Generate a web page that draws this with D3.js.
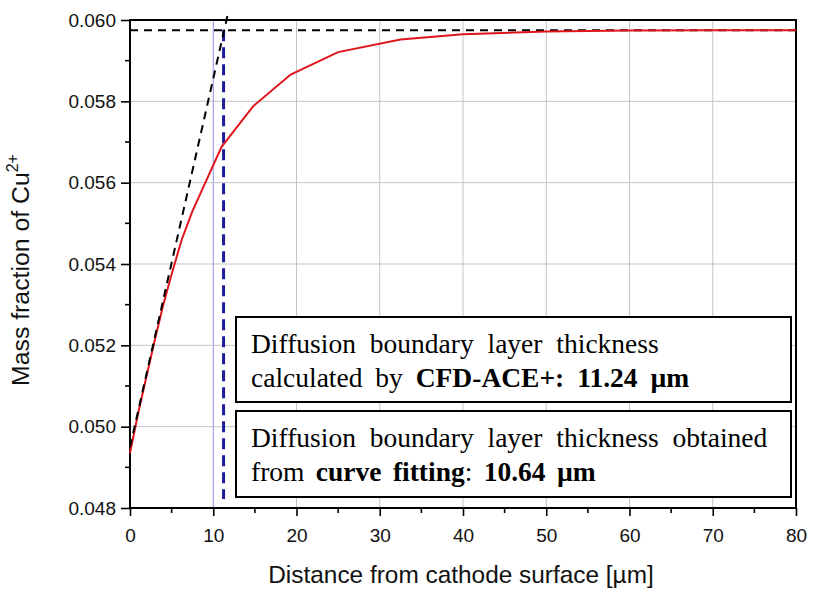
<!DOCTYPE html>
<html><head><meta charset="utf-8">
<script src="https://cdn.jsdelivr.net/npm/d3@7"></script>
<style>body{margin:0;background:#fff}svg{display:block}</style>
</head><body>
<svg id="c" width="819" height="592"></svg>
<script>
// ---- data ----
const curveX = [0, 1, 2, 3, 4, 5, 6.2, 7.5, 9.2, 11.0, 14.8, 19.3, 25.0, 32.5, 40, 50, 60, 70, 80];
const curveY = [0.04935, 0.05035, 0.05125, 0.05215, 0.0530, 0.05375, 0.05459, 0.05530, 0.05607, 0.05688, 0.05788, 0.05866, 0.05921, 0.05952, 0.05965, 0.05972, 0.05974, 0.05975, 0.05975];
const tangentX = [0, 11.7];
const tangentY = [0.0495, 0.0601];
const plateauY = 0.05975;
const cfdThickness = 11.24;
const fitThickness = 10;   // thin guide line
const xTicks = [0, 10, 20, 30, 40, 50, 60, 70, 80];
const yTicks = [0.048, 0.050, 0.052, 0.054, 0.056, 0.058, 0.060];
const xMinor = [5, 15, 25, 35, 45, 55, 65, 75];
const yMinor = [0.049, 0.051, 0.053, 0.055, 0.057, 0.059];

const svg = d3.select("#c");
const L = 130, R = 796, T = 20, B = 508;
const x = d3.scaleLinear().domain([0, 80]).range([L, R]);
const y = d3.scaleLinear().domain([0.048, 0.060]).range([B, T]);

// grid
const g = svg.append("g");
g.selectAll(".gx").data(xTicks.slice(1, -1)).enter().append("line")
  .attr("x1", d => x(d)).attr("x2", d => x(d)).attr("y1", T).attr("y2", B)
  .attr("stroke", d => d === fitThickness ? "#8c8cf0" : "#c4c4c4").attr("stroke-width", 1);
g.selectAll(".gy").data(yTicks.slice(1, -1)).enter().append("line")
  .attr("x1", L).attr("x2", R).attr("y1", d => y(d)).attr("y2", d => y(d))
  .attr("stroke", "#c4c4c4").attr("stroke-width", 1);

// axes
const xAxis = d3.axisBottom(x).tickValues(xTicks).tickFormat(d3.format("d")).tickSize(8).tickPadding(13);
const yAxis = d3.axisLeft(y).tickValues(yTicks).tickFormat(d3.format(".3f")).tickSize(9).tickPadding(5);
const ax = svg.append("g").attr("transform", `translate(0,${B})`).call(xAxis);
const ay = svg.append("g").attr("transform", `translate(${L},0)`).call(yAxis);
[ax, ay].forEach(a => {
  a.select(".domain").remove();
  a.selectAll("line").attr("stroke", "#000").attr("stroke-width", 1.6);
  a.selectAll("text").attr("font-family", "Liberation Sans, Arial, sans-serif").attr("font-size", 19).attr("fill", "#111");
});
// minor ticks
svg.append("g").selectAll("line").data(xMinor).enter().append("line")
  .attr("x1", d => x(d)).attr("x2", d => x(d)).attr("y1", B).attr("y2", B + 5)
  .attr("stroke", "#000").attr("stroke-width", 1.6);
svg.append("g").selectAll("line").data(yMinor).enter().append("line")
  .attr("x1", L - 5).attr("x2", L).attr("y1", d => y(d)).attr("y2", d => y(d))
  .attr("stroke", "#000").attr("stroke-width", 1.6);

// frame
svg.append("rect").attr("x", L).attr("y", T).attr("width", R - L).attr("height", B - T)
  .attr("fill", "none").attr("stroke", "#000").attr("stroke-width", 2);

// horizontal plateau dashed line
svg.append("line").attr("x1", x(0)).attr("x2", x(80)).attr("y1", y(plateauY)).attr("y2", y(plateauY))
  .attr("stroke", "#000").attr("stroke-width", 2).attr("stroke-dasharray", "8,6");

// blue dashed vertical line
svg.append("line").attr("x1", x(cfdThickness)).attr("x2", x(cfdThickness))
  .attr("y1", y(plateauY)).attr("y2", y(0.04822))
  .attr("stroke", "#1c1c9c").attr("stroke-width", 3).attr("stroke-dasharray", "11,6");

// red curve
const line = d3.line().x(d => x(d[0])).y(d => y(d[1]));
svg.append("path").datum(curveX.map((v, i) => [v, curveY[i]]))
  .attr("d", line).attr("fill", "none").attr("stroke", "#e0141c").attr("stroke-width", 2);

// tangent dashed line
svg.append("path").datum(tangentX.map((v, i) => [v, tangentY[i]]))
  .attr("d", line).attr("fill", "none").attr("stroke", "#000").attr("stroke-width", 2).attr("stroke-dasharray", "8,6");

// text boxes
const boxes = [
  {y0: 317, y1: 402, lines: [
    {ws: 7, parts: [{t: "Diffusion boundary layer thickness"}]},
    {ws: 6, parts: [{t: "calculated by "}, {t: "CFD-ACE+: 11.24 µm", b: true}]}
  ]},
  {y0: 411, y1: 497, lines: [
    {ws: 7, parts: [{t: "Diffusion boundary layer thickness obtained"}]},
    {ws: 4.5, parts: [{t: "from "}, {t: "curve fitting", b: true}, {t: ": "}, {t: "10.64 µm", b: true}]}
  ]}
];
boxes.forEach(bx => {
  svg.append("rect").attr("x", 236).attr("y", bx.y0).attr("width", 555).attr("height", bx.y1 - bx.y0)
    .attr("fill", "#fff").attr("stroke", "#000").attr("stroke-width", 2);
  bx.lines.forEach((ln, i) => {
    const t = svg.append("text").attr("x", 251).attr("y", bx.y0 + 36 + i * 34)
      .attr("font-family", "Liberation Serif, Times New Roman, serif").attr("font-size", 27.5)
      .attr("word-spacing", ln.ws)
      .attr("fill", "#000").style("white-space", "pre");
    ln.parts.forEach(s => t.append("tspan").text(s.t).attr("font-weight", s.b ? "bold" : "normal"));
  });
});

// axis titles
svg.append("text").attr("x", (L + R) / 2 - 2).attr("y", 583).attr("text-anchor", "middle")
  .attr("font-family", "Liberation Sans, Arial, sans-serif").attr("font-size", 24.4).attr("fill", "#111")
  .text("Distance from cathode surface [µm]");
const yl = svg.append("text").attr("transform", `translate(29,${(T + B) / 2 + 6}) rotate(-90)`)
  .attr("text-anchor", "middle")
  .attr("font-family", "Liberation Sans, Arial, sans-serif").attr("font-size", 24.8).attr("fill", "#111");
yl.append("tspan").text("Mass fraction of Cu");
yl.append("tspan").text("2+").attr("font-size", 16).attr("dy", -11);
</script>
</body></html>
